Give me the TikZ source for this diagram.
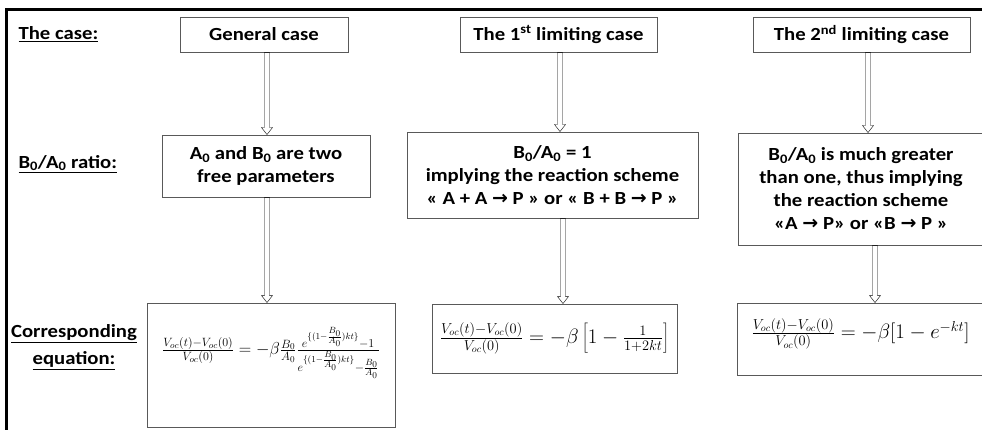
\documentclass[tikz,border=0pt]{standalone}
\usepackage{fontspec}
\setmainfont{Carlito}[FakeStretch=1.12]
\newfontfamily\arrowfont{DejaVu Sans}
\usetikzlibrary{calc}
\newcommand{\ra}{{\arrowfont\bfseries\fontsize{19}{20}\selectfont →}}
\tikzset{
  box/.style={draw=black!65, line width=0.9pt, fill=white, align=center,
    font=\bfseries\fontsize{18.5}{23}\selectfont, inner sep=2pt},
  lbl/.style={font=\bfseries\fontsize{18.5}{27}\selectfont, align=center},
  eqtext/.style={font=\fontsize{20}{24}\selectfont, inner sep=0pt},
  blockarrow/.style={draw=black!75, line width=0.7pt, fill=white, to path={
    let \p1=(\tikztostart), \p2=(\tikztotarget) in
    (\x1-2.5pt,\y1) -- (\x1-2.5pt,\y2+7pt) -- (\x1-5.5pt,\y2+7pt) -- (\x1,\y2)
    -- (\x1+5.5pt,\y2+7pt) -- (\x1+2.5pt,\y2+7pt) -- (\x1+2.5pt,\y1) -- cycle}}
}
\begin{document}
\begin{tikzpicture}[x=1pt,y=-1pt]
\useasboundingbox (0,0) rectangle (982,430);
\fill[white] (0,0) rectangle (982,430);
% frame
\draw[line width=3pt] (6.5,431) -- (6.5,10) -- (983,10);

% left labels
\node[lbl, anchor=west] (l1) at (15,34) {\underline{The case:}};
\node[lbl, anchor=west] (l2) at (15,164) {\underline{B\textsubscript{0}/A\textsubscript{0} ratio:}};
\node[lbl] (l3) at (74,347) {\underline{Corresponding}\\\underline{equation:}};

% top row
\node[box, minimum width=168pt, minimum height=35pt] (gc) at (264,34.5) {General case};
\node[box, minimum width=197pt, minimum height=35pt] (c1) at (558.5,34.5) {The 1\textsuperscript{st} limiting case};
\node[box, minimum width=217pt, minimum height=35pt] (c2) at (861.5,34.5) {The 2\textsuperscript{nd} limiting case};

% ratio row
\node[box, minimum width=208pt, minimum height=62pt] (r1) at (266,166)
  {A\textsubscript{0} and B\textsubscript{0} are two\\free parameters};
\node[box, minimum width=291pt, minimum height=86pt] (r2) at (552.5,175)
  {B\textsubscript{0}/A\textsubscript{0} = 1\\implying the reaction scheme\\« A + A \ra{} P » or « B + B \ra{} P »};
\node[box, minimum width=246pt, minimum height=112pt] (r3) at (861,189)
  {B\textsubscript{0}/A\textsubscript{0} is much greater\\than one, thus implying\\the reaction scheme\\«A \ra{} P» or «B \ra{} P »};

% equation boxes
\node[box, minimum width=248pt, minimum height=124pt] (e1) at (271,365) {};
\node[box, minimum width=245pt, minimum height=69pt] (e2) at (554.5,338.5) {};
\node[box, minimum width=247pt, minimum height=72pt] (e3) at (860.5,339) {};

\node[eqtext, font=\fontsize{18.5}{22}\selectfont] (q1) at ([yshift=12pt]e1.center)
  {$\frac{V_{oc}(t)-V_{oc}(0)}{V_{oc}(0)}=-\beta\frac{B_0}{A_0}
   \frac{e^{\{(1-\frac{B_0}{A_0})kt\}}-1\rule[-2pt]{0pt}{0pt}}
        {\rule{0pt}{12pt}e^{\{(1-\frac{B_0}{A_0})kt\}}-\frac{B_0}{A_0}}$};
\node[eqtext] (q2) at (e2.center)
  {$\frac{V_{oc}(t)-V_{oc}(0)}{V_{oc}(0)}=-\beta\left[1-\frac{1}{1+2kt}\right]$};
\node[eqtext] (q3) at ([yshift=5pt]e3.center)
  {$\frac{V_{oc}(t)-V_{oc}(0)}{V_{oc}(0)}=-\beta[1-e^{-kt}]$};

% arrows
\draw ([xshift=3pt]gc.south) to[blockarrow] (r1.north);
\draw ([xshift=1pt]r1.south) to[blockarrow] (e1.north);
\draw ([xshift=1.5pt]c1.south) to[blockarrow] (r2.north);
\draw ([xshift=10.5pt]r2.south) to[blockarrow] (e2.north);
\draw ([xshift=6.5pt]c2.south) to[blockarrow] (r3.north);
\draw ([xshift=14pt]r3.south) to[blockarrow] (e3.north);
\end{tikzpicture}
\end{document}
